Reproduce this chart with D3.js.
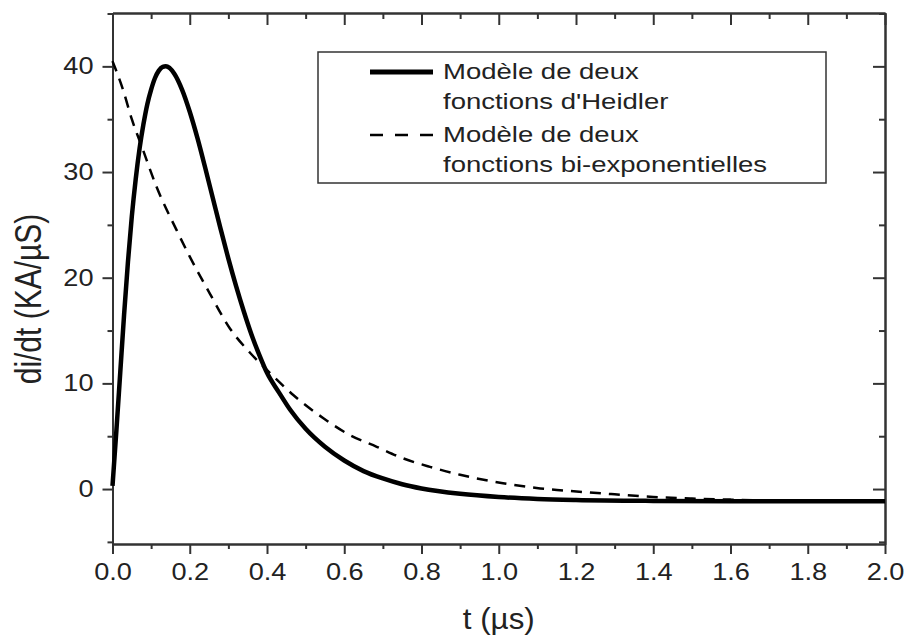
<!DOCTYPE html>
<html>
<head>
<meta charset="utf-8">
<script src="https://cdn.jsdelivr.net/npm/d3@7"></script>
<style>
  body { margin: 0; background: #fff; }
  text { font-family: "Liberation Sans", Arial, sans-serif; fill: #222; }
</style>
</head>
<body>
<div id="wrapper"></div>
<script>

// data

const heidlerT = [0, 0.01, 0.02, 0.03, 0.04, 0.05, 0.06, 0.07, 0.08, 0.09, 0.10, 0.11, 0.12, 0.13, 0.138,
  0.16, 0.18, 0.20, 0.22, 0.24, 0.26, 0.28, 0.30, 0.32, 0.34, 0.36, 0.38, 0.40, 0.43, 0.46, 0.50,
  0.55, 0.60, 0.65, 0.70, 0.75, 0.80, 0.90, 1.0, 1.1, 1.2, 1.4, 1.6, 1.8, 2.0];
const heidlerV = [0.3, 5.5, 11, 16.5, 21.5, 25.8, 29.3, 32.2, 34.5, 36.4, 37.8, 38.9, 39.6, 39.95, 40,
  39.3, 37.8, 35.7, 33.2, 30.4, 27.5, 24.6, 21.8, 19.2, 16.8, 14.6, 12.7, 11.0, 9.2, 7.5, 5.7,
  4.0, 2.7, 1.7, 1.0, 0.45, 0.05, -0.45, -0.75, -0.93, -1.03, -1.12, -1.15, -1.15, -1.15];

const biexpT = [0, 0.028, 0.05, 0.076, 0.114, 0.166, 0.2, 0.252, 0.304, 0.356, 0.399, 0.468, 0.546, 0.615, 0.684, 0.753, 0.822, 0.9, 1.011, 1.098, 1.167, 1.3, 1.4, 1.5, 1.6, 1.7, 1.8, 2.0];
const biexpV = [40.5, 37.7, 35.0, 32.4, 28.6, 24.5, 22, 18.5, 15.2, 12.9, 11.3, 8.9, 6.7, 5.1, 4.0, 2.9, 2.1, 1.35, 0.55, 0.1, -0.13, -0.5, -0.75, -0.9, -1.0, -1.08, -1.12, -1.15];

const xMajor = [0, 0.2, 0.4, 0.6, 0.8, 1.0, 1.2, 1.4, 1.6, 1.8, 2.0];
const xMinor = [0.1, 0.3, 0.5, 0.7, 0.9, 1.1, 1.3, 1.5, 1.7, 1.9];
const yMajor = [0, 10, 20, 30, 40];
const yMinor = [-5, 5, 15, 25, 35, 45];

const legendLabels = [
  ["Modèle de deux", "fonctions d'Heidler"],
  ["Modèle de deux", "fonctions bi-exponentielles"]
];

// dimensions

const dms = {
  width: 908,
  height: 636,
  margins: { top: 13, right: 23, bottom: 92, left: 112.5 }
};
dms.innerWidth = dms.width - dms.margins.left - dms.margins.right;
dms.innerHeight = dms.height - dms.margins.top - dms.margins.bottom;

// the picture is stretched sideways, so text is widened a bit
function widen(sel, k) {
  sel.each(function () {
    const w = this.getComputedTextLength();
    d3.select(this)
      .attr("textLength", w * k)
      .attr("lengthAdjust", "spacingAndGlyphs");
  });
}

const svg = d3.select("#wrapper")
  .append("svg")
    .attr("width", dms.width)
    .attr("height", dms.height);

const inner = svg.append("g")
  .attr("transform", `translate(${dms.margins.left},${dms.margins.top})`);

// scales

const xScale = d3.scaleLinear()
  .domain([0, 2])
  .range([0, dms.innerWidth]);

const yScale = d3.scaleLinear()
  .domain([-5.2, 45.05])
  .range([dms.innerHeight, 0]);

// axes

function styleAxis(g) {
  g.selectAll("path.domain").attr("stroke", "#333").attr("stroke-width", 2);
  g.selectAll(".tick line").attr("stroke", "#333").attr("stroke-width", 2);
}

const xAxis = inner.append("g")
  .attr("transform", `translate(0,${dms.innerHeight})`)
  .call(d3.axisBottom(xScale).tickValues(xMajor).tickSize(10).tickSizeOuter(0)
    .tickPadding(10).tickFormat(d3.format(".1f")))
  .call(styleAxis);
xAxis.selectAll("text").attr("font-size", 23).attr("fill", "#222").call(widen, 1.18);

inner.append("g")
  .attr("transform", `translate(0,${dms.innerHeight})`)
  .call(d3.axisBottom(xScale).tickValues(xMinor).tickSize(5).tickSizeOuter(0).tickFormat(""))
  .call(styleAxis);

const yAxis = inner.append("g")
  .call(d3.axisLeft(yScale).tickValues(yMajor).tickSize(10).tickSizeOuter(0).tickPadding(9))
  .call(styleAxis);
yAxis.selectAll("text").attr("font-size", 23).attr("fill", "#222").call(widen, 1.18);

inner.append("g")
  .call(d3.axisLeft(yScale).tickValues(yMinor).tickSize(5).tickSizeOuter(0).tickFormat(""))
  .call(styleAxis);

// mirrored axes with inward ticks
inner.append("g")
  .call(d3.axisTop(xScale).tickValues(xMajor).tickSize(-12).tickSizeOuter(0).tickFormat(""))
  .call(styleAxis);
inner.append("g")
  .call(d3.axisTop(xScale).tickValues(xMinor).tickSize(-6).tickSizeOuter(0).tickFormat(""))
  .call(styleAxis);
inner.append("g")
  .attr("transform", `translate(${dms.innerWidth},0)`)
  .call(d3.axisRight(yScale).tickValues(yMajor).tickSize(-12).tickSizeOuter(0).tickFormat(""))
  .call(styleAxis);
inner.append("g")
  .attr("transform", `translate(${dms.innerWidth},0)`)
  .call(d3.axisRight(yScale).tickValues(yMinor).tickSize(-6).tickSizeOuter(0).tickFormat(""))
  .call(styleAxis);

// curves

const lineGenerator = d3.line()
  .x(d => xScale(d[0]))
  .y(d => yScale(d[1]))
  .curve(d3.curveMonotoneX);

inner.append("path")
  .attr("d", lineGenerator(d3.zip(biexpT, biexpV)))
  .attr("fill", "none")
  .attr("stroke", "#000")
  .attr("stroke-width", 2.5)
  .attr("stroke-dasharray", "11,8");

inner.append("path")
  .attr("d", lineGenerator(d3.zip(heidlerT, heidlerV)))
  .attr("fill", "none")
  .attr("stroke", "#000")
  .attr("stroke-width", 4.5)
  .attr("stroke-linejoin", "round");

// axis titles

const xTitle = svg.append("text")
  .attr("x", dms.margins.left + dms.innerWidth / 2)
  .attr("y", 629)
  .attr("text-anchor", "middle")
  .attr("font-size", 29)
  .text("t (µs)");
widen(xTitle, 1.08);

svg.append("text")
  .attr("transform", "translate(41,299) scale(1.2,1) rotate(-90)")
  .attr("text-anchor", "middle")
  .attr("font-size", 30)
  .text("di/dt (KA/µS)");

// legend

const legend = svg.append("g").attr("transform", "translate(318,52)");

legend.append("rect")
  .attr("width", 508)
  .attr("height", 131)
  .attr("fill", "#fff")
  .attr("stroke", "#333")
  .attr("stroke-width", 1.5);

const styles = [
  { width: 5, dash: null },
  { width: 2.5, dash: "13,12" }
];

legendLabels.forEach((lines, i) => {
  const y0 = 20 + i * 63;
  legend.append("line")
    .attr("x1", 52).attr("x2", 115)
    .attr("y1", y0).attr("y2", y0)
    .attr("stroke", "#000")
    .attr("stroke-width", styles[i].width)
    .attr("stroke-dasharray", styles[i].dash);
  lines.forEach((s, j) => {
    legend.append("text")
      .attr("x", 125)
      .attr("y", y0 + 6.5 + j * 30)
      .attr("font-size", 22)
      .text(s)
      .call(widen, 1.25);
  });
});

</script>
</body>
</html>
